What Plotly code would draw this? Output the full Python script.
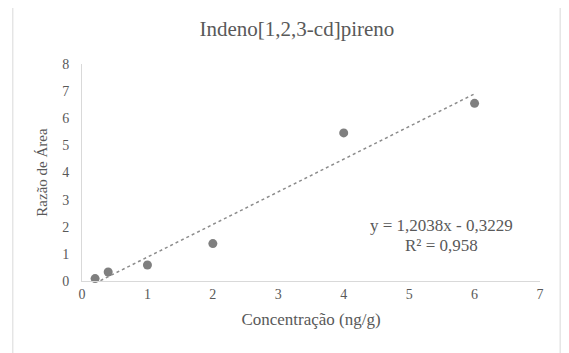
import plotly.graph_objects as go

# dados
concentracao = [0.2, 0.4, 1, 2, 4, 6]
razao_area = [0.09, 0.33, 0.59, 1.38, 5.46, 6.55]
slope = 1.2038
intercept = -0.3229
r2 = 0.958

x_ticks = [0, 1, 2, 3, 4, 5, 6, 7]
y_ticks = [0, 1, 2, 3, 4, 5, 6, 7, 8]

txt = "#595959"
font_family = "Liberation Serif, serif"

trend_x = [min(concentracao), max(concentracao)]
trend_y = [slope * v + intercept for v in trend_x]

fig = go.Figure()
fig.add_trace(go.Scatter(
    x=trend_x, y=trend_y, mode="lines",
    line=dict(color="#8c8c8c", width=1.5, dash="dot"),
    hoverinfo="skip", showlegend=False,
))
fig.add_trace(go.Scatter(
    x=concentracao, y=razao_area, mode="markers",
    marker=dict(color="#7f7f7f", size=9),
    cliponaxis=False, showlegend=False,
))

eq = f"y = {slope:.4f}x - {abs(intercept):.4f}".replace(".", ",")
r2_txt = f"R² = {r2:.3f}".replace(".", ",")
fig.add_annotation(x=5.5, y=2.06, xref="x", yref="y", text=eq, showarrow=False,
                   font=dict(size=17, color=txt, family=font_family))
fig.add_annotation(x=5.5, y=1.32, xref="x", yref="y", text=r2_txt, showarrow=False,
                   font=dict(size=17, color=txt, family=font_family))

# moldura do gráfico
fig.add_shape(type="rect", xref="paper", yref="paper",
              x0=-0.151, x1=1.044, y0=-0.4, y1=1.267,
              line=dict(color="#d9d9d9", width=1), layer="below")

# a página tem 8 px de margem no body
fig.update_layout(
    width=561, height=345,
    margin=dict(l=74, r=29, t=56, b=72),
    paper_bgcolor="white", plot_bgcolor="white",
    font=dict(family=font_family, color=txt, size=14),
    title=dict(text="Indeno[1,2,3-cd]pireno", x=0.515, xanchor="center",
               y=0.94, yanchor="middle", font=dict(size=21, color=txt, family=font_family)),
    xaxis=dict(range=[0, 7], tickvals=x_ticks, showgrid=False, zeroline=False,
               showline=True, linecolor="#d9d9d9", linewidth=1, ticks="",
               tickfont=dict(family=font_family, size=14),
               title=dict(text="Concentração (ng/g)", standoff=12,
                          font=dict(size=17, color=txt, family=font_family))),
    yaxis=dict(range=[0, 8], tickvals=y_ticks, showgrid=False, zeroline=False,
               showline=True, linecolor="#d9d9d9", linewidth=1, ticks="",
               ticklabelstandoff=9, tickfont=dict(family=font_family, size=14),
               title=dict(text="Razão de Área", standoff=10,
                          font=dict(size=15, color=txt, family=font_family))),
)

fig.write_html("out.html")
